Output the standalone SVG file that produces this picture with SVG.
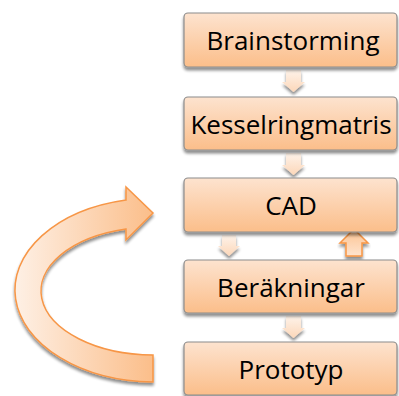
<svg xmlns="http://www.w3.org/2000/svg" width="399" height="396" viewBox="0 0 399 396">
<defs>
<linearGradient id="boxg" x1="0" y1="0" x2="0" y2="1">
<stop offset="0" stop-color="#fde3cf"/>
<stop offset="1" stop-color="#fbbe8a"/>
</linearGradient>
<linearGradient id="smallg" x1="0" y1="0" x2="0" y2="1">
<stop offset="0" stop-color="#fef3ea"/>
<stop offset="1" stop-color="#fcd7b9"/>
</linearGradient>
<linearGradient id="upg" x1="0" y1="0" x2="0" y2="1">
<stop offset="0" stop-color="#fcc28f"/>
<stop offset="1" stop-color="#fee4cf"/>
</linearGradient>
<linearGradient id="curveg" x1="0" y1="0" x2="1" y2="0">
<stop offset="0" stop-color="#fef0e5"/>
<stop offset="1" stop-color="#fbbe8a"/>
</linearGradient>
<filter id="sh" x="-10%" y="-10%" width="120%" height="140%">
<feGaussianBlur in="SourceAlpha" stdDeviation="1.5"/>
<feOffset dx="0" dy="2.5" result="b"/>
<feComponentTransfer><feFuncA type="linear" slope="0.45"/></feComponentTransfer>
<feMerge><feMergeNode/><feMergeNode in="SourceGraphic"/></feMerge>
</filter>
</defs>
<style>
.box{fill:url(#boxg);stroke:#8c8c8c;stroke-width:1.2;filter:url(#sh)}
.lbl{font-family:"Open Sans","Liberation Sans",sans-serif;font-size:26px;font-weight:400;fill:#000;text-anchor:middle;dominant-baseline:central}
.sm{fill:url(#smallg);stroke:none;filter:url(#sh)}
.up{fill:url(#upg);stroke:#f79646;stroke-width:1.5;filter:url(#sh)}
.curve{fill:url(#curveg);stroke:#f79646;stroke-width:1.5;filter:url(#sh)}
</style>
<g id="connectors">
<path class="sm" d="M286,70 H301 V82 H305 L293.5,92 L282,82 H286 Z"/>
<path class="sm" d="M286,153 H301 V165 H305 L293.5,175 L282,165 H286 Z"/>
<path class="sm" d="M222,235 H236 V246 H240 L229,256 L218,246 H222 Z"/>
<path class="sm" d="M286,316 H301 V328 H305 L293.5,338 L282,328 H286 Z"/>
<path class="up" d="M346,256 V243 H340 L354,229 L368,243 H362 V256 Z"/>
<path id="loop" class="curve" d="M153,382 A140,92 0 0 1 126,200 L126,187 L153,213 L126,240 L126,229 A113,64 0 0 0 153,355 Z"/>
</g>
<g id="n1"><rect class="box" x="184" y="13" width="213" height="54" rx="4"/><text class="lbl" x="293" y="40">Brainstorming</text></g>
<g id="n2"><rect class="box" x="184" y="97" width="213" height="53" rx="4"/><text class="lbl" x="291" y="123.5">Kesselringmatris</text></g>
<g id="n3"><rect class="box" x="184" y="178" width="213" height="54" rx="4"/><text class="lbl" x="291" y="205">CAD</text></g>
<g id="n4"><rect class="box" x="184" y="260" width="213" height="53" rx="4"/><text class="lbl" x="291" y="286.5">Beräkningar</text></g>
<g id="n5"><rect class="box" x="184" y="342" width="213" height="53" rx="4"/><text class="lbl" x="291" y="368.5">Prototyp</text></g>
</svg>
